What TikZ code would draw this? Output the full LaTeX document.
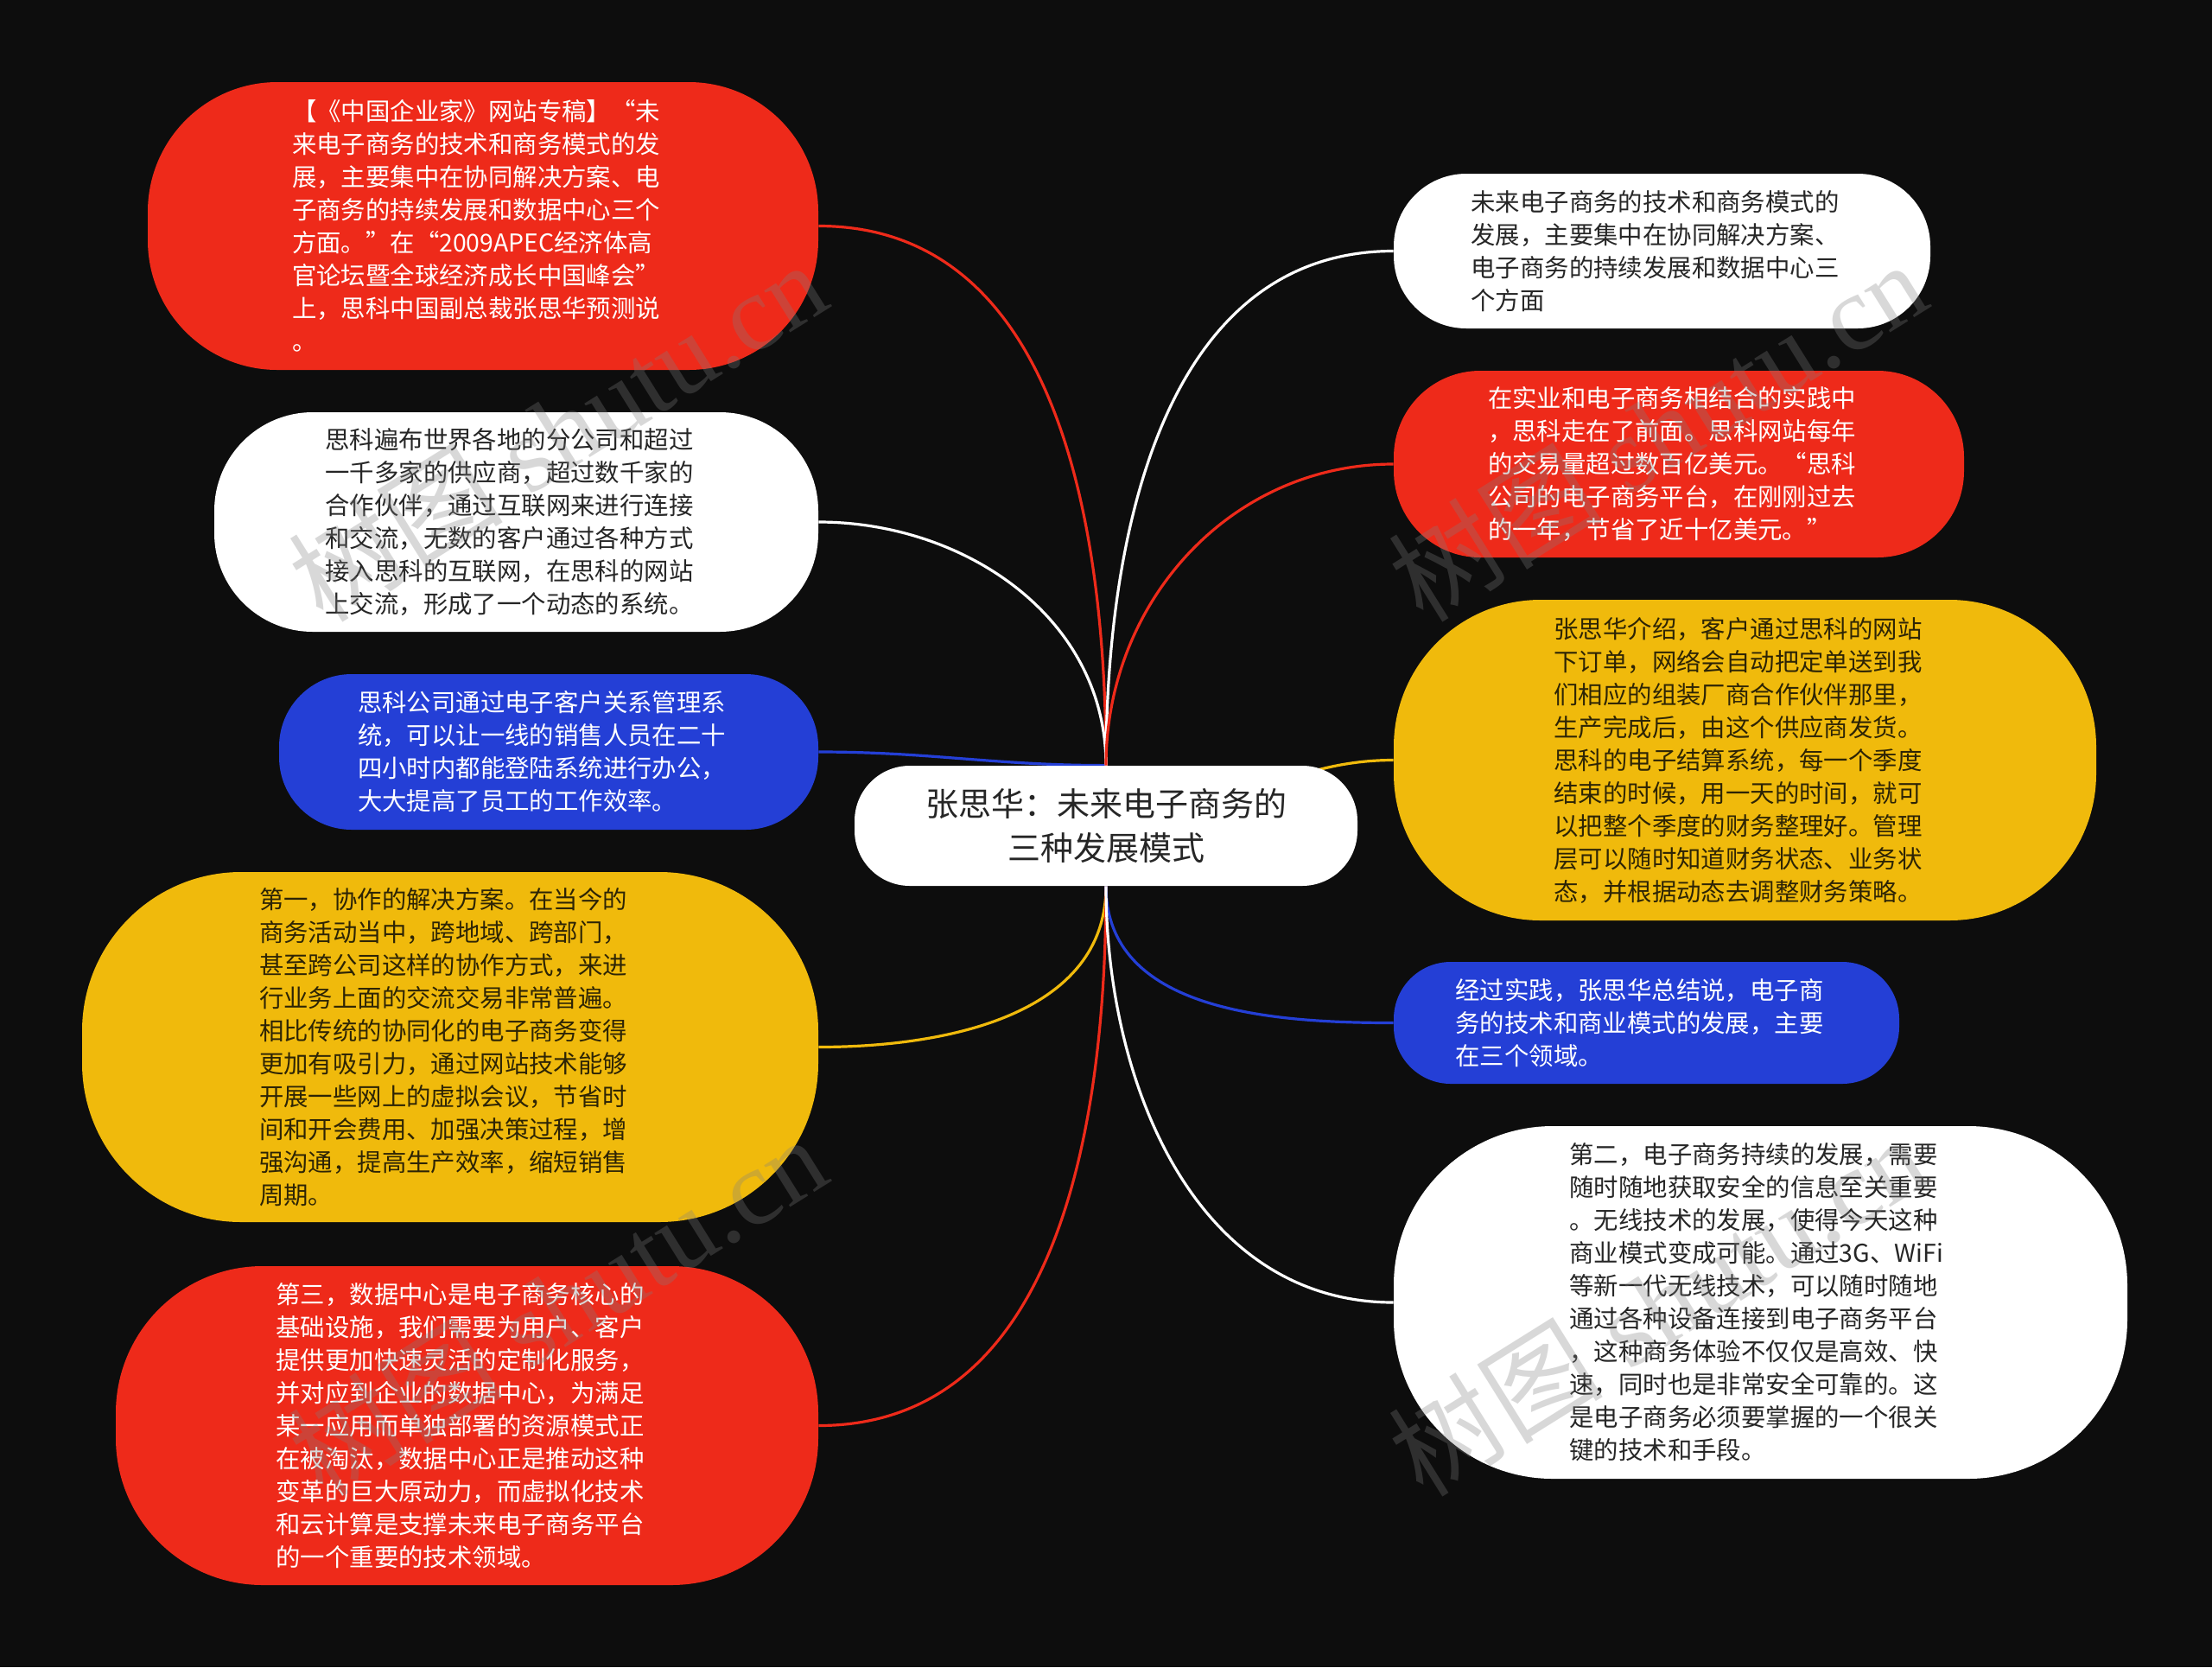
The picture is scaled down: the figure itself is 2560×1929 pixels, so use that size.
\documentclass[tikz,border=0pt]{standalone}
\usepackage{fontspec}
\setmainfont{Liberation Serif}
\newfontfamily\cjk{Noto Sans CJK SC}
\usetikzlibrary{backgrounds}
\definecolor{bgc}{RGB}{13,13,13}
\definecolor{cred}{RGB}{238,42,26}
\definecolor{cyel}{RGB}{240,186,12}
\definecolor{cblue}{RGB}{36,63,214}
\definecolor{cdark}{RGB}{38,38,38}
\definecolor{cydark}{RGB}{45,36,5}
\pgfdeclarelayer{bglayer}
\pgfdeclarelayer{connlayer}
\pgfdeclarelayer{wmlayer}
\pgfsetlayers{bglayer,connlayer,main,wmlayer}
\tikzset{
  box/.style={rectangle, inner sep=0pt, text width=221pt, align=left, font=\cjk\fontsize{14.2}{19}\selectfont},
  redbox/.style={box, fill=cred, text=white},
  whitebox/.style={box, fill=white, text=cdark},
  bluebox/.style={box, fill=cblue, text=white},
  yelbox/.style={box, fill=cyel, text=cydark},
  centerbox/.style={rectangle, inner sep=0pt, align=center, fill=white, text=cdark, font=\cjk\fontsize{19}{25.3}\selectfont},
  conn/.style={line width=1.6pt},
  lred/.style={conn, draw=cred},
  lwhite/.style={conn, draw=white},
  lblue/.style={conn, draw=cblue},
  lyel/.style={conn, draw=cyel},
  wm/.style={text=gray, opacity=0.3, font=\fontsize{62}{66}\selectfont, inner sep=0pt}
}
\begin{document}
\begin{tikzpicture}[x=0.5pt,y=0.5pt]
\begin{pgfonlayer}{bglayer}
\fill[bgc] (0,0) rectangle (2560,-1929);
\end{pgfonlayer}
\useasboundingbox (0,0) rectangle (2560,-1929);

\node[centerbox, minimum width=291pt, minimum height=69.5pt, rounded corners=32pt] (c) at (1280,-955.5) {张思华：未来电子商务的\\三种发展模式};

\node[redbox, minimum width=388pt, minimum height=166.5pt, rounded corners=75pt] (n1) at (559,-261.5) {【《中国企业家》网站专稿】“未\\来电子商务的技术和商务模式的发\\展，主要集中在协同解决方案、电\\子商务的持续发展和数据中心三个\\方面。”在“2009APEC经济体高\\官论坛暨全球经济成长中国峰会”\\上，思科中国副总裁张思华预测说\\。};

\node[whitebox, minimum width=349.5pt, minimum height=127pt, rounded corners=57pt] (n2) at (597.5,-604) {思科遍布世界各地的分公司和超过\\一千多家的供应商，超过数千家的\\合作伙伴，通过互联网来进行连接\\和交流，无数的客户通过各种方式\\接入思科的互联网，在思科的网站\\上交流，形成了一个动态的系统。};

\node[bluebox, minimum width=312pt, minimum height=90pt, rounded corners=42pt] (n3) at (635,-870) {思科公司通过电子客户关系管理系\\统，可以让一线的销售人员在二十\\四小时内都能登陆系统进行办公，\\大大提高了员工的工作效率。};

\node[yelbox, minimum width=426pt, minimum height=202.5pt, rounded corners=92pt] (n4) at (521,-1211.5) {第一，协作的解决方案。在当今的\\商务活动当中，跨地域、跨部门，\\甚至跨公司这样的协作方式，来进\\行业务上面的交流交易非常普遍。\\相比传统的协同化的电子商务变得\\更加有吸引力，通过网站技术能够\\开展一些网上的虚拟会议，节省时\\间和开会费用、加强决策过程，增\\强沟通，提高生产效率，缩短销售\\周期。};

\node[redbox, minimum width=406.5pt, minimum height=184.5pt, rounded corners=85pt] (n5) at (540.5,-1649.5) {第三，数据中心是电子商务核心的\\基础设施，我们需要为用户、客户\\提供更加快速灵活的定制化服务，\\并对应到企业的数据中心，为满足\\某一应用而单独部署的资源模式正\\在被淘汰，数据中心正是推动这种\\变革的巨大原动力，而虚拟化技术\\和云计算是支撑未来电子商务平台\\的一个重要的技术领域。};

\node[whitebox, minimum width=310.5pt, minimum height=89.5pt, rounded corners=42pt] (n6) at (1923.5,-290.5) {未来电子商务的技术和商务模式的\\发展，主要集中在协同解决方案、\\电子商务的持续发展和数据中心三\\个方面};

\node[redbox, minimum width=330pt, minimum height=108pt, rounded corners=50pt] (n7) at (1943,-537) {在实业和电子商务相结合的实践中\\，思科走在了前面。思科网站每年\\的交易量超过数百亿美元。“思科\\公司的电子商务平台，在刚刚过去\\的一年，节省了近十亿美元。”};

\node[yelbox, minimum width=406.5pt, minimum height=185.5pt, rounded corners=85pt] (n8) at (2019.5,-879.5) {张思华介绍，客户通过思科的网站\\下订单，网络会自动把定单送到我\\们相应的组装厂商合作伙伴那里，\\生产完成后，由这个供应商发货。\\思科的电子结算系统，每一个季度\\结束的时候，用一天的时间，就可\\以把整个季度的财务整理好。管理\\层可以随时知道财务状态、业务状\\态，并根据动态去调整财务策略。};

\node[bluebox, minimum width=292.5pt, minimum height=70.5pt, rounded corners=33pt] (n9) at (1905.5,-1183.5) {经过实践，张思华总结说，电子商\\务的技术和商业模式的发展，主要\\在三个领域。};

\node[whitebox, minimum width=424.5pt, minimum height=204pt, rounded corners=92pt] (n10) at (2037.5,-1507) {第二，电子商务持续的发展，需要\\随时随地获取安全的信息至关重要\\。无线技术的发展，使得今天这种\\商业模式变成可能。通过3G、WiFi\\等新一代无线技术，可以随时随地\\通过各种设备连接到电子商务平台\\，这种商务体验不仅仅是高效、快\\速，同时也是非常安全可靠的。这\\是电子商务必须要掌握的一个很关\\键的技术和手段。};

\begin{pgfonlayer}{connlayer}
\draw[lred] (n1.east) to[out=0,in=90] (c.north);
\draw[lwhite] (n2.east) to[out=0,in=90] (c.north);
\draw[lblue] (n3.east) to[out=0,in=180] (c.north);
\draw[lyel] (n4.east) to[out=0,in=-90] (c.south);
\draw[lred] (n5.east) to[out=0,in=-90] (c.south);
\draw[lwhite] (c.north) to[out=90,in=180] (n6.west);
\draw[lred] (c.north) to[out=90,in=180] (n7.west);
\draw[lyel] (c.center) to[out=0,in=180] (n8.west);
\draw[lblue] (c.south) to[out=-90,in=180] (n9.west);
\draw[lwhite] (c.south) to[out=-90,in=180] (n10.west);
\end{pgfonlayer}

\begin{pgfonlayer}{wmlayer}
\node[wm, rotate=32] (w1) at (645,-498) {{\cjk 树图} shutu.cn};
\node[wm, rotate=32] (w2) at (1918,-498) {{\cjk 树图} shutu.cn};
\node[wm, rotate=32] (w3) at (645,-1510) {{\cjk 树图} shutu.cn};
\node[wm, rotate=32] (w4) at (1918,-1510) {{\cjk 树图} shutu.cn};
\end{pgfonlayer}
\end{tikzpicture}
\end{document}
